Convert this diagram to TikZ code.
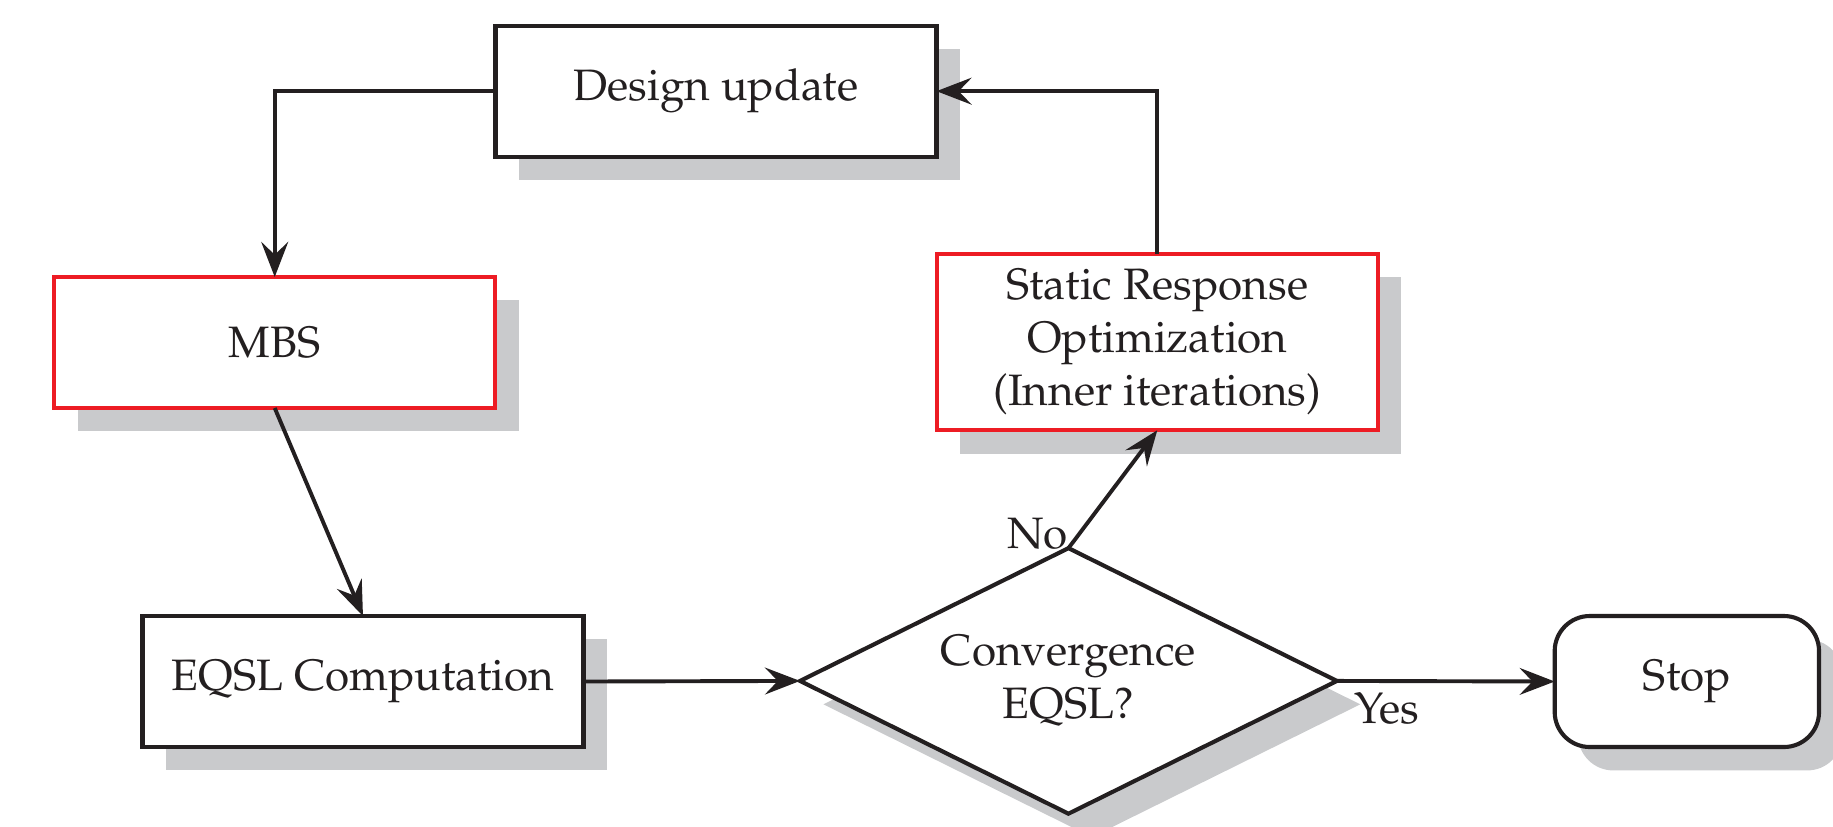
\documentclass[tikz,border=0pt]{standalone}
\usepackage[T1]{fontenc}
\usepackage{mathpazo}
\usetikzlibrary{shapes.geometric,arrows.meta,shadows}
\definecolor{shadowgray}{RGB}{201,202,204}
\definecolor{boxred}{RGB}{237,28,36}
\definecolor{ink}{RGB}{35,31,32}
\begin{document}
\begin{tikzpicture}[x=0.01cm,y=-0.01cm,
  shad/.style={drop shadow={shadow xshift=0.2cm,shadow yshift=-0.2cm,fill=shadowgray,opacity=1}},
  blockbox/.style={draw=ink,line width=1pt,fill=white,rectangle,minimum width=3.77cm,minimum height=1.12cm,inner sep=2pt,outer sep=0pt,shad,align=center,text=ink},
  redbox/.style={blockbox,draw=boxred},
  decbox/.style={draw=ink,line width=1pt,fill=white,diamond,minimum width=4.59cm,minimum height=2.27cm,inner sep=0pt,outer sep=0pt,aspect=2,shad,align=center,text=ink},
  stopbox/.style={blockbox,rounded corners=0.3cm,minimum width=2.26cm},
  flow/.style={draw=ink,line width=0.95pt,-{Stealth[length=0.3cm,width=0.23cm,inset=0.11cm]}},
  lbl/.style={text=ink,inner sep=0pt},
  font=\fontsize{10.7}{12.8}\selectfont]
\useasboundingbox (0,0) rectangle (1568,707);
\node[blockbox] (design) at (612.5,78) {Design update};
\node[redbox] (mbs) at (235,293) {MBS};
\node[blockbox] (eqsl) at (310.5,583) {EQSL Computation};
\node[redbox,minimum height=1.51cm] (static) at (990,292.5) {Static Response\\Optimization\\(Inner iterations)};
\node[decbox] (conv) at (914,582.5) {Convergence\\EQSL?};
\node[stopbox] (stop) at (1443,583) {Stop};
\draw[flow] (design.west) -| (mbs.north);
\draw[flow] (mbs.south) -- (eqsl.north);
\draw[flow] (eqsl.east) -- (conv.west);
\draw[flow] (conv.north) -- (static.south);
\draw[flow] (static.north) |- (design.east);
\draw[flow] (conv.east) -- (stop.west);
\node[lbl,anchor=south east] (no) at ([yshift=-0.02cm]conv.north) {No};
\node[lbl,anchor=north west] (yes) at ([xshift=0.14cm,yshift=-0.1cm]conv.east) {Yes};
\end{tikzpicture}
\end{document}
